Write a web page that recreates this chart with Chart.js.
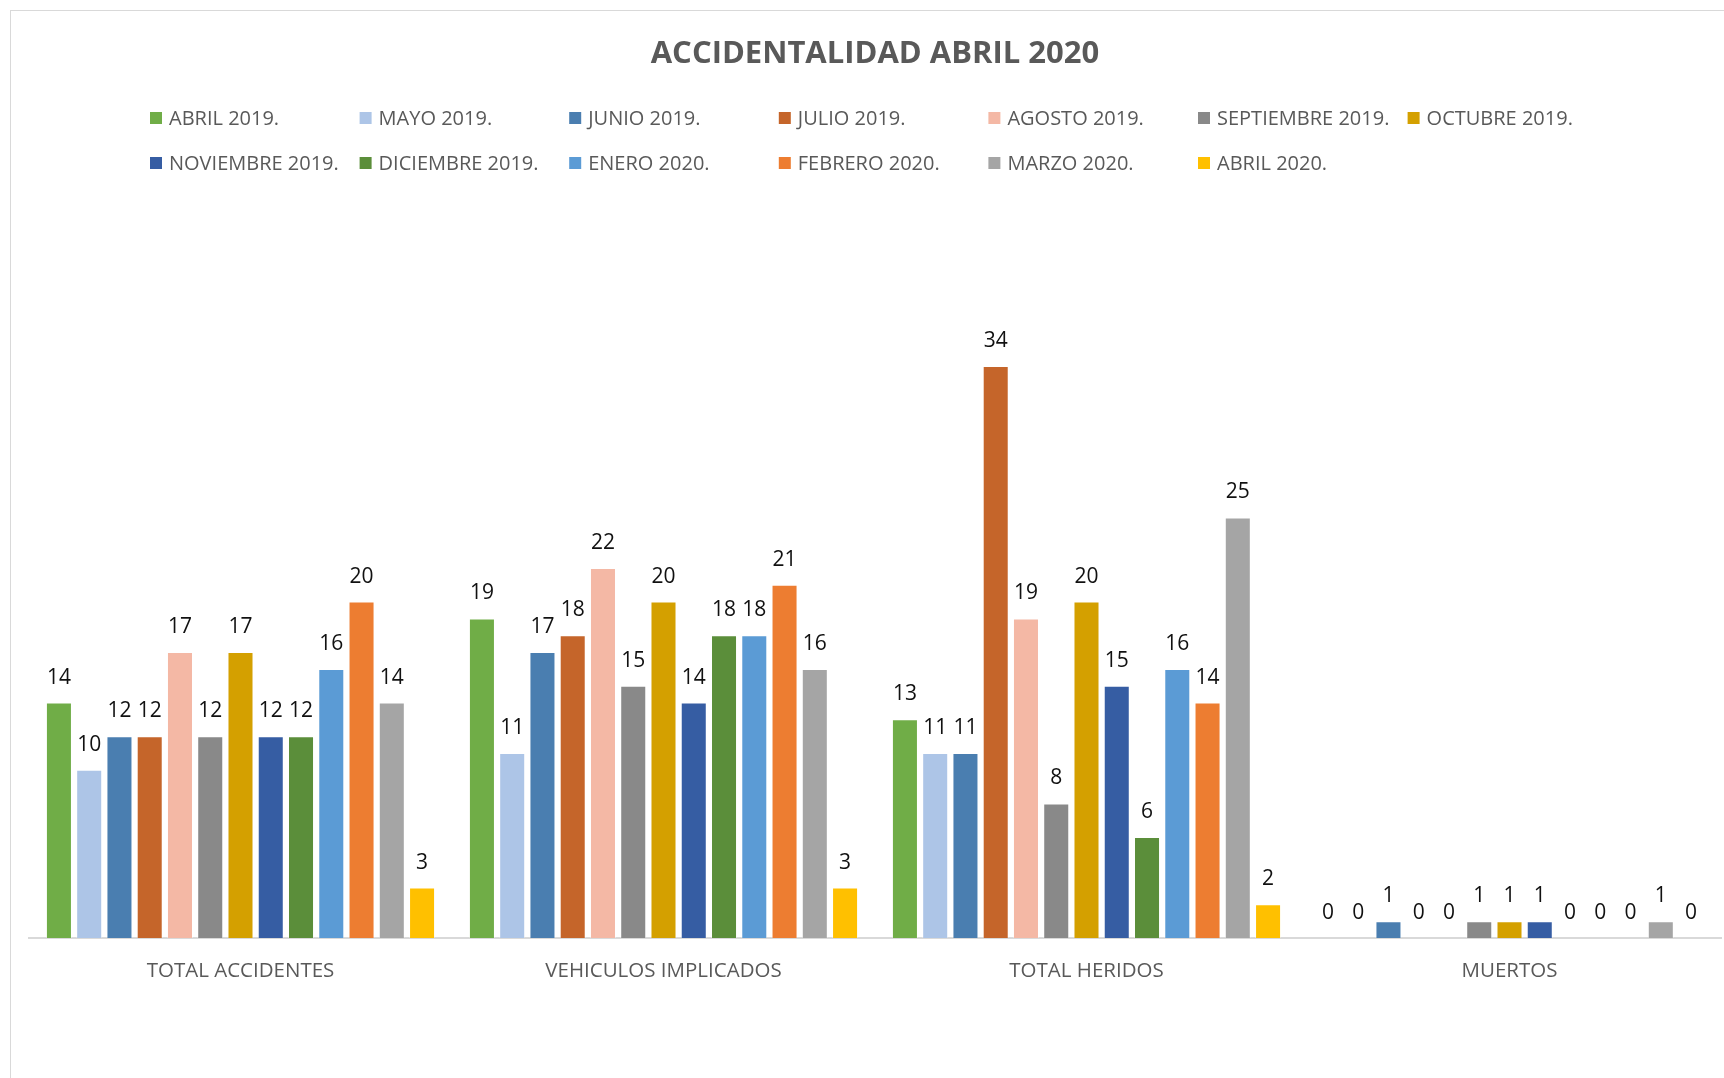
<!DOCTYPE html>
<html lang="es">
<head>
<meta charset="utf-8">
<title>Accidentalidad abril 2020</title>
<script src="https://cdn.jsdelivr.net/npm/chart.js@4.4.1/dist/chart.umd.min.js"></script>
<style>
  html, body { margin: 0; padding: 0; background: #fff; overflow: hidden; }
  #chart { display: block; }
</style>
</head>
<body>
<canvas id="chart" width="1724" height="1078"></canvas>
<script>
// --- Data ---
const categories = ['TOTAL ACCIDENTES', 'VEHICULOS IMPLICADOS', 'TOTAL HERIDOS', 'MUERTOS'];

const months = [
    'ABRIL 2019.', 'MAYO 2019.', 'JUNIO 2019.', 'JULIO 2019.', 'AGOSTO 2019.',
    'SEPTIEMBRE 2019.', 'OCTUBRE 2019.', 'NOVIEMBRE 2019.', 'DICIEMBRE 2019.',
    'ENERO 2020.', 'FEBRERO 2020.', 'MARZO 2020.', 'ABRIL 2020.'
];

// one value per month, same order as `months`
const totalAccidentes     = [14, 10, 12, 12, 17, 12, 17, 12, 12, 16, 20, 14, 3];
const vehiculosImplicados = [19, 11, 17, 18, 22, 15, 20, 14, 18, 18, 21, 16, 3];
const totalHeridos        = [13, 11, 11, 34, 19, 8, 20, 15, 6, 16, 14, 25, 2];
const muertos             = [0, 0, 1, 0, 0, 1, 1, 1, 0, 0, 0, 1, 0];

const monthColors = [
    '#70AD47', '#ADC5E7', '#4A7EB0', '#C5652A', '#F4B8A5', '#898989', '#D4A000',
    '#365DA3', '#5B8E3A', '#5B9BD5', '#ED7D31', '#A5A5A5', '#FFC000'
];

const byCategory = [totalAccidentes, vehiculosImplicados, totalHeridos, muertos];

const datasets = months.map((m, i) => ({
    label: m,
    data: byCategory.map(arr => arr[i]),
    backgroundColor: monthColors[i],
    borderColor: 'rgba(255,255,255,0.35)',
    borderWidth: 1,
    barPercentage: 0.86,
    categoryPercentage: 0.93
}));

const FONT = '"Open Sans", "DejaVu Sans", sans-serif';
const GREY_TEXT = '#595959';

// --- Plugins ---
// thin outer frame of the chart area
const framePlugin = {
    id: 'frame',
    beforeDraw(chart) {
        const ctx = chart.ctx;
        ctx.save();
        ctx.strokeStyle = '#d9d9d9';
        ctx.lineWidth = 1;
        ctx.strokeRect(10.5, 10.5, chart.width + 20, chart.height + 20);
        ctx.restore();
    }
};

// legend laid out as a fixed 7-column grid
const gridLegend = {
    id: 'gridLegend',
    afterDraw(chart) {
        const ctx = chart.ctx;
        ctx.save();
        ctx.font = `20px ${FONT}`;
        ctx.textBaseline = 'middle';
        ctx.textAlign = 'left';
        chart.data.datasets.forEach((ds, i) => {
            const col = i % 7;
            const row = Math.floor(i / 7);
            const x = 150 + col * 209.6;
            const y = 118 + row * 45;
            ctx.fillStyle = ds.backgroundColor;
            ctx.fillRect(x, y - 6, 12, 12);
            ctx.fillStyle = GREY_TEXT;
            ctx.fillText(ds.label, x + 19, y + 1);
        });
        ctx.restore();
    }
};

// value written above every bar
const valueLabels = {
    id: 'valueLabels',
    afterDatasetsDraw(chart) {
        const ctx = chart.ctx;
        ctx.save();
        ctx.font = `21px ${FONT}`;
        ctx.fillStyle = '#111';
        ctx.textAlign = 'center';
        ctx.textBaseline = 'middle';
        chart.data.datasets.forEach((ds, i) => {
            const meta = chart.getDatasetMeta(i);
            meta.data.forEach((bar, j) => {
                ctx.fillText(String(ds.data[j]), bar.x, bar.y - 25);
            });
        });
        ctx.restore();
    }
};

// --- Chart ---
new Chart(document.getElementById('chart').getContext('2d'), {
    type: 'bar',
    data: { labels: categories, datasets: datasets },
    options: {
        responsive: false,
        animation: false,
        layout: { padding: { left: 29, right: 3, top: 0, bottom: 0 } },
        plugins: {
            legend: { display: false },
            tooltip: { enabled: false },
            title: {
                display: true,
                text: 'ACCIDENTALIDAD ABRIL 2020',
                color: GREY_TEXT,
                font: { family: FONT, size: 31, weight: 'bold' },
                padding: { top: 36, bottom: 192 }
            }
        },
        scales: {
            x: {
                grid: { display: false },
                border: { display: true, color: '#d9d9d9', width: 2 },
                ticks: {
                    color: GREY_TEXT,
                    font: { family: FONT, size: 20.5 },
                    padding: 13
                },
                afterFit(scale) { scale.height = 140; }
            },
            y: {
                display: false,
                min: 0,
                max: 40
            }
        }
    },
    plugins: [framePlugin, gridLegend, valueLabels]
});
</script>
</body>
</html>
